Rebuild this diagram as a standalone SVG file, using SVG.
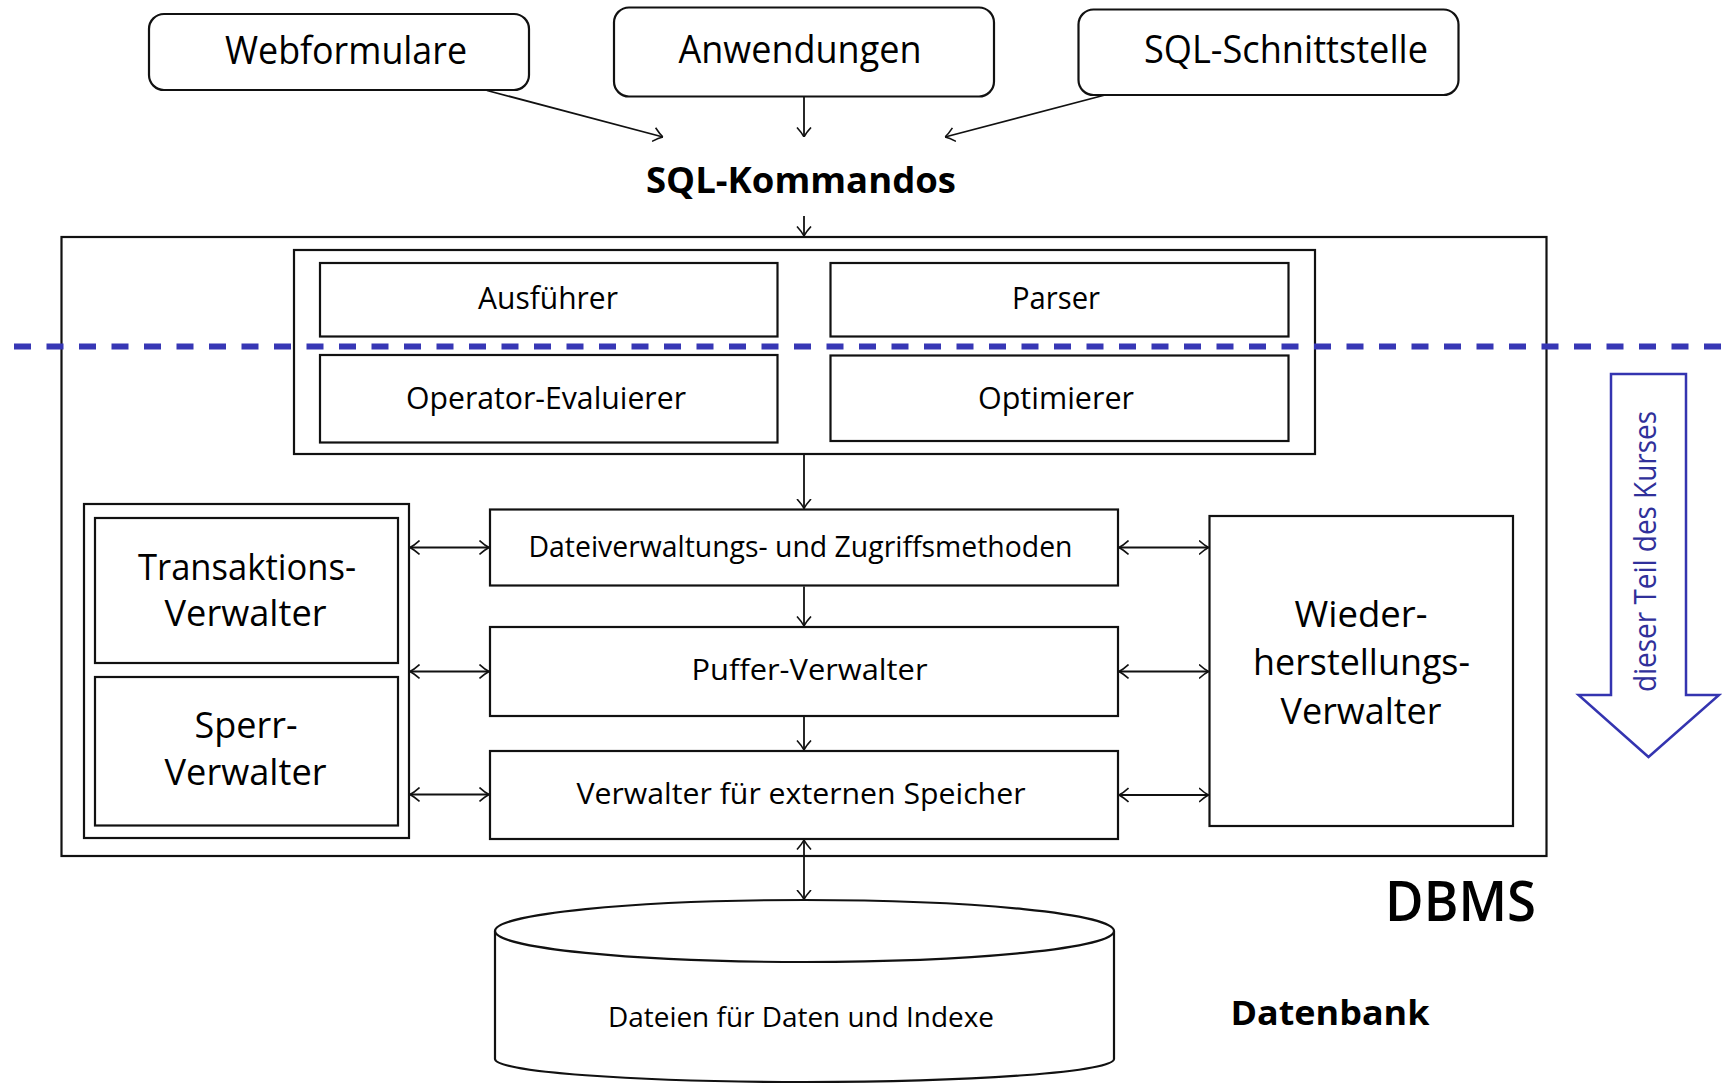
<svg xmlns="http://www.w3.org/2000/svg" width="1722" height="1084" viewBox="0 0 1722 1084">
<defs>
<style>
.box{fill:#fff;stroke:#111;stroke-width:2.2}
.rbox{fill:#fff;stroke:#111;stroke-width:2.2}
.t{font-family:"Open Sans","Noto Sans","Liberation Sans",sans-serif;fill:#000;text-anchor:middle}
.b{font-weight:bold}
.c{fill:none;stroke:#111;stroke-width:1.8}
.blue{fill:none;stroke:#3434b0;stroke-width:2.5}
</style>
<marker id="ah" viewBox="0 0 10 16" refX="10" refY="8" markerWidth="10" markerHeight="16" markerUnits="userSpaceOnUse" orient="auto-start-reverse">
<path d="M0.5,1 Q6,6 10,8 Q6,10 0.5,15" fill="none" stroke="#111" stroke-width="1.6"/>
</marker>
</defs>
<rect width="1722" height="1084" fill="#fff"/>

<g id="dbms">
<rect class="box" x="61.5" y="237" width="1485" height="619"/>
<text class="t" x="1460.5" y="920.5" font-size="56" font-weight="600" textLength="151" lengthAdjust="spacingAndGlyphs">DBMS</text>
</g>

<g id="webformulare">
<rect class="rbox" x="149" y="14" width="380" height="76" rx="15"/>
<text class="t" x="346" y="64" font-size="38" textLength="242" lengthAdjust="spacingAndGlyphs">Webformulare</text>
</g>
<g id="anwendungen">
<rect class="rbox" x="614" y="7.5" width="380" height="89" rx="15"/>
<text class="t" x="800" y="62.5" font-size="38" textLength="243" lengthAdjust="spacingAndGlyphs">Anwendungen</text>
</g>
<g id="sql-schnittstelle">
<rect class="rbox" x="1078.5" y="9.5" width="380" height="85.5" rx="15"/>
<text class="t" x="1286" y="62.5" font-size="38" textLength="284" lengthAdjust="spacingAndGlyphs">SQL-Schnittstelle</text>
</g>
<g id="sql-kommandos">
<text class="t b" x="801" y="192.5" font-size="36" textLength="310" lengthAdjust="spacingAndGlyphs">SQL-Kommandos</text>
</g>

<g id="query-engine">
<rect class="box" x="294" y="250" width="1021" height="204"/>
</g>
<g id="ausfuehrer">
<rect class="box" x="320" y="263" width="457.5" height="73.5"/>
<text class="t" x="548" y="308.5" font-size="31" textLength="140" lengthAdjust="spacingAndGlyphs">Ausführer</text>
</g>
<g id="parser">
<rect class="box" x="830.5" y="263" width="458" height="73.5"/>
<text class="t" x="1056" y="308.5" font-size="31" textLength="88" lengthAdjust="spacingAndGlyphs">Parser</text>
</g>
<g id="operator-evaluierer">
<rect class="box" x="320" y="355" width="457.5" height="87.5"/>
<text class="t" x="546" y="408.5" font-size="31" textLength="280" lengthAdjust="spacingAndGlyphs">Operator-Evaluierer</text>
</g>
<g id="optimierer">
<rect class="box" x="830.5" y="355.5" width="458" height="85.5"/>
<text class="t" x="1056" y="408.5" font-size="31" textLength="156" lengthAdjust="spacingAndGlyphs">Optimierer</text>
</g>

<g id="concurrency">
<rect class="box" x="84" y="504" width="325" height="334"/>
</g>
<g id="transaktions-verwalter">
<rect class="box" x="95" y="518" width="303" height="145"/>
<text class="t" x="247" y="579.5" font-size="36" textLength="218" lengthAdjust="spacingAndGlyphs">Transaktions-</text>
<text class="t" x="245.5" y="625.5" font-size="36" textLength="162" lengthAdjust="spacingAndGlyphs">Verwalter</text>
</g>
<g id="sperr-verwalter">
<rect class="box" x="95" y="677" width="303" height="148.5"/>
<text class="t" x="246" y="737.5" font-size="36" textLength="103" lengthAdjust="spacingAndGlyphs">Sperr-</text>
<text class="t" x="245.5" y="784.5" font-size="36" textLength="162" lengthAdjust="spacingAndGlyphs">Verwalter</text>
</g>

<g id="dateiverwaltung">
<rect class="box" x="490" y="509.5" width="628" height="76"/>
<text class="t" x="800.5" y="556.5" font-size="29" textLength="544" lengthAdjust="spacingAndGlyphs">Dateiverwaltungs- und Zugriffsmethoden</text>
</g>
<g id="puffer-verwalter">
<rect class="box" x="490" y="627" width="628" height="89"/>
<text class="t" x="809.5" y="680" font-size="29" textLength="236" lengthAdjust="spacingAndGlyphs">Puffer-Verwalter</text>
</g>
<g id="speicher-verwalter">
<rect class="box" x="490" y="751" width="628" height="88"/>
<text class="t" x="801" y="803.5" font-size="29" textLength="449" lengthAdjust="spacingAndGlyphs">Verwalter für externen Speicher</text>
</g>

<g id="wiederherstellungs-verwalter">
<rect class="box" x="1209.5" y="516" width="303.5" height="310"/>
<text class="t" x="1361" y="626.5" font-size="36" textLength="133" lengthAdjust="spacingAndGlyphs">Wieder-</text>
<text class="t" x="1361.5" y="675" font-size="36" textLength="217" lengthAdjust="spacingAndGlyphs">herstellungs-</text>
<text class="t" x="1361" y="723.5" font-size="36" textLength="161" lengthAdjust="spacingAndGlyphs">Verwalter</text>
</g>

<g id="datenbank">
<path d="M495,931 L495,1059 A309.5,23 0 0 0 1114,1059 L1114,931" fill="#fff" stroke="#111" stroke-width="2.2"/>
<ellipse cx="804.5" cy="931" rx="309.5" ry="31" fill="#fff" stroke="#111" stroke-width="2.2"/>
<text class="t" x="801" y="1026.5" font-size="28" textLength="386" lengthAdjust="spacingAndGlyphs">Dateien für Daten und Indexe</text>
<text class="t b" x="1330" y="1025" font-size="34" textLength="199" lengthAdjust="spacingAndGlyphs">Datenbank</text>
</g>

<g id="connectors">
<line class="c" x1="487" y1="90.5" x2="663" y2="137" marker-end="url(#ah)"/>
<line class="c" x1="804" y1="97" x2="804" y2="137" marker-end="url(#ah)"/>
<line class="c" x1="1105" y1="95" x2="945" y2="137" marker-end="url(#ah)"/>
<line class="c" x1="804" y1="216" x2="804" y2="236" marker-end="url(#ah)"/>
<line class="c" x1="804" y1="455" x2="804" y2="508.5" marker-end="url(#ah)"/>
<line class="c" x1="804" y1="586.5" x2="804" y2="626" marker-end="url(#ah)"/>
<line class="c" x1="804" y1="717" x2="804" y2="750" marker-end="url(#ah)"/>
<line class="c" x1="804" y1="840" x2="804" y2="899.5" marker-start="url(#ah)" marker-end="url(#ah)"/>
<line class="c" x1="410" y1="547.5" x2="489" y2="547.5" marker-start="url(#ah)" marker-end="url(#ah)"/>
<line class="c" x1="410" y1="671.5" x2="489" y2="671.5" marker-start="url(#ah)" marker-end="url(#ah)"/>
<line class="c" x1="410" y1="794.5" x2="489" y2="794.5" marker-start="url(#ah)" marker-end="url(#ah)"/>
<line class="c" x1="1119" y1="547.5" x2="1208.5" y2="547.5" marker-start="url(#ah)" marker-end="url(#ah)"/>
<line class="c" x1="1119" y1="671.5" x2="1208.5" y2="671.5" marker-start="url(#ah)" marker-end="url(#ah)"/>
<line class="c" x1="1119" y1="795" x2="1208.5" y2="795" marker-start="url(#ah)" marker-end="url(#ah)"/>
</g>

<g id="course-boundary">
<line x1="14" y1="346.5" x2="1722" y2="346.5" stroke="#3737b5" stroke-width="6" stroke-dasharray="17 15.5"/>
</g>
<g id="course-arrow">
<path class="blue" d="M1611,374 L1686,374 L1686,695 L1719,695 L1648.5,757 L1578.5,695 L1611,695 Z" fill="#fff"/>
<text class="t" transform="translate(1656,551.5) rotate(-90)" x="0" y="0" font-size="31" style="fill:#30309a" textLength="281" lengthAdjust="spacingAndGlyphs">dieser Teil des Kurses</text>
</g>
</svg>
